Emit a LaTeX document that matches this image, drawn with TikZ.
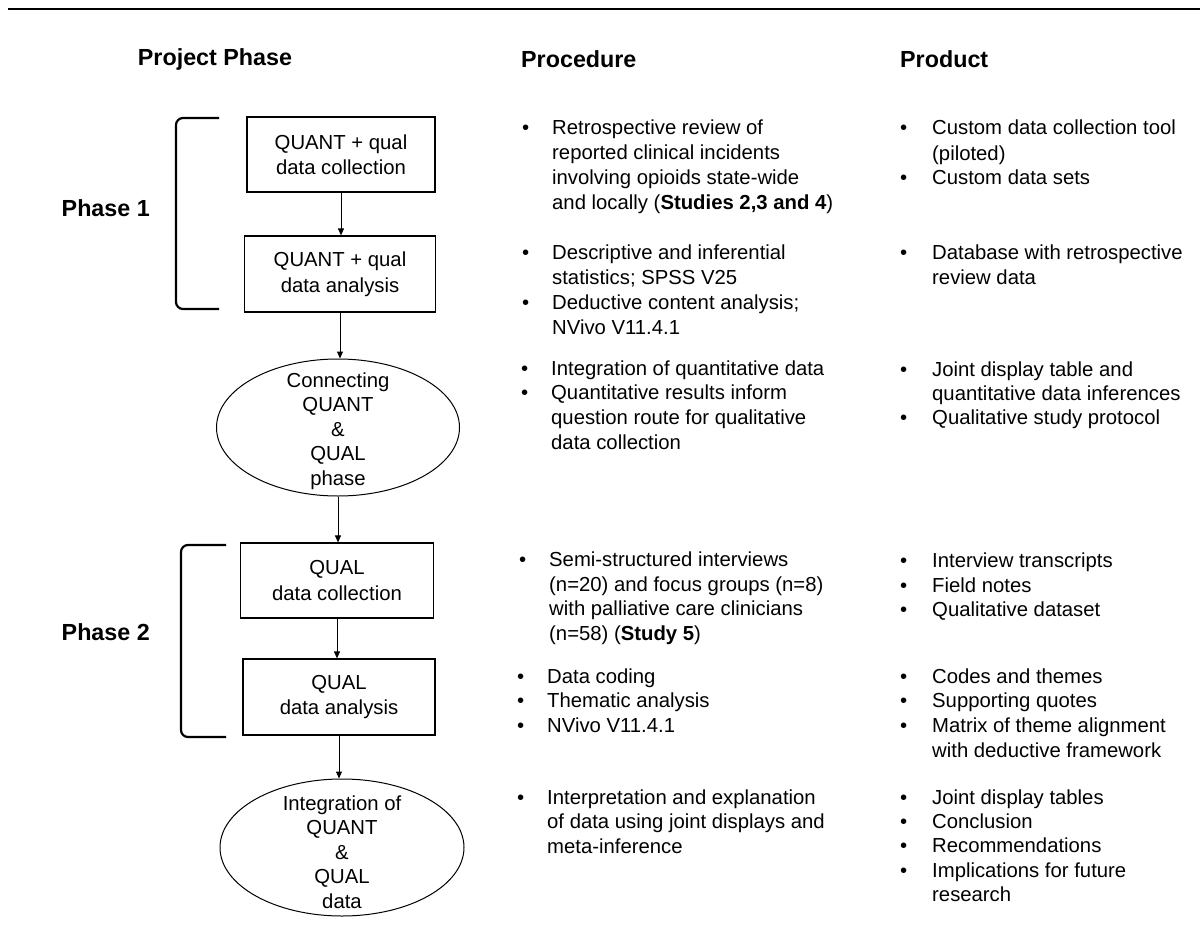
\documentclass[tikz,border=0pt]{standalone}
\usepackage{fontspec}
\setmainfont{Liberation Sans}
\usetikzlibrary{shapes.geometric,arrows.meta}
\newcounter{tn}
\newcommand\tline[3]{\stepcounter{tn}\node[txt,name=t\arabic{tn}] at (#1,#2+7) {#3};}
\newcommand\bpt[3]{\stepcounter{tn}\node[txt,name=t\arabic{tn}] at (#1,#2+7) {•};}
\tikzset{
 txt/.style={anchor=base west, inner sep=0pt, font=\fontsize{20.3}{24.7}\selectfont},
 hdr/.style={inner sep=0pt, font=\bfseries\fontsize{23.3}{28}\selectfont},
 boxn/.style={draw, line width=1.2pt, minimum width=190pt, minimum height=75pt, inner sep=0pt, align=center, font=\fontsize{20.3}{25.5}\selectfont},
 ell/.style={draw, ellipse, line width=1pt, inner sep=0pt, minimum width=243pt, minimum height=137pt},
 elltxt/.style={inner sep=0pt, align=center, font=\fontsize{20.3}{24.6}\selectfont},
 arr/.style={-{Triangle[length=7pt,width=6pt]}, line width=1pt},
 brk/.style={line width=2.2pt, rounded corners=7pt},
}
\begin{document}
\begin{tikzpicture}[x=1pt,y=-1pt]
\useasboundingbox (0,0) rectangle (1200,934);
\fill[white] (0,0) rectangle (1200,934);
% top rule
\coordinate (r1) at (8,9);
\coordinate (r2) at (1200,9);
\draw[line width=2.5pt] (r1) -- (r2);
% headers
\node[hdr] (h1) at (215,59) {Project Phase};
\node[hdr,anchor=west] (h2) at (521,59) {Procedure};
\node[hdr,anchor=west] (h3) at (900,59) {Product};
% phase labels
\node[hdr,anchor=east] (ph1) at (150,208) {Phase 1};
\node[hdr,anchor=east] (ph2) at (150,632) {Phase 2};
% brackets
\draw[brk] (219,118) -- (176,118) -- (176,309) -- (219,309);
\draw[brk] (226,545) -- (181,545) -- (181,737) -- (226,737);
% flow nodes
\node[boxn,minimum width=188pt] (b1) at (341,154.5) {QUANT + qual\\data collection};
\node[boxn,minimum width=191pt,minimum height=76pt] (b2) at (340,274) {QUANT + qual\\data analysis};
\node[ell] (e1) at (338,427.5) {};
\node[elltxt] (e1t) at (338,431) {Connecting\\QUANT\\\&\\QUAL\\phase};
\node[boxn,minimum width=193pt] (b3) at (337,580.5) {QUAL\\data collection};
\node[boxn,minimum width=192pt,minimum height=76pt] (b4) at (339,697) {QUAL\\data analysis};
\node[ell,minimum width=244pt] (e2) at (342,847.5) {};
\node[elltxt] (e2t) at (342,852) {Integration of\\QUANT\\\&\\QUAL\\data};
% connectors
\draw[arr] (b1.south) -- (b1.south |- b2.north);
\draw[arr] (b2.south) -- (b2.south |- e1.north);
\draw[arr] (e1.south) -- (e1.south |- b3.north);
\draw[arr] (b3.south) -- (b3.south |- b4.north);
\draw[arr] (b4.south) -- (b4.south |- e2.north);
% procedure column
\bpt{522}{128}{}
\tline{552}{128}{Retrospective review of}
\tline{552}{152.5}{reported clinical incidents}
\tline{552}{177.5}{involving opioids state-wide}
\tline{552}{202.5}{and locally (\textbf{Studies 2,3 and 4})}
\bpt{522}{252}{}
\tline{552}{252}{Descriptive and inferential}
\tline{552}{277}{statistics; SPSS V25}
\bpt{522}{302}{}
\tline{552}{302}{Deductive content analysis;}
\tline{552}{327}{NVivo V11.4.1}
\bpt{521}{368}{}
\tline{551}{368}{Integration of quantitative data}
\bpt{521}{392}{}
\tline{551}{392}{Quantitative results inform}
\tline{551}{417}{question route for qualitative}
\tline{551}{442}{data collection}
\bpt{519}{559}{}
\tline{549}{559}{Semi-structured interviews}
\tline{549}{584}{(n=20) and focus groups (n=8)}
\tline{549}{608.5}{with palliative care clinicians}
\tline{549}{633}{(n=58) (\textbf{Study 5})}
\bpt{517}{676}{}
\tline{547}{676}{Data coding}
\bpt{517}{700}{}
\tline{547}{700}{Thematic analysis}
\bpt{517}{725}{}
\tline{547}{725}{NVivo V11.4.1}
\bpt{517}{797}{}
\tline{547}{797}{Interpretation and explanation}
\tline{547}{821}{of data using joint displays and}
\tline{547}{846}{meta-inference}
% product column
\bpt{900}{128}{}
\tline{932}{128}{Custom data collection tool}
\tline{932}{153}{(piloted)}
\bpt{900}{177}{}
\tline{932}{177}{Custom data sets}
\bpt{900}{252}{}
\tline{932}{252}{Database with retrospective}
\tline{932}{277}{review data}
\bpt{900}{369}{}
\tline{932}{369}{Joint display table and}
\tline{932}{393}{quantitative data inferences}
\bpt{900}{417}{}
\tline{932}{417}{Qualitative study protocol}
\bpt{900}{560}{}
\tline{932}{560}{Interview transcripts}
\bpt{900}{585}{}
\tline{932}{585}{Field notes}
\bpt{900}{609}{}
\tline{932}{609}{Qualitative dataset}
\bpt{900}{676}{}
\tline{932}{676}{Codes and themes}
\bpt{900}{700}{}
\tline{932}{700}{Supporting quotes}
\bpt{900}{725}{}
\tline{932}{725}{Matrix of theme alignment}
\tline{932}{750}{with deductive framework}
\bpt{900}{797}{}
\tline{932}{797}{Joint display tables}
\bpt{900}{821}{}
\tline{932}{821}{Conclusion}
\bpt{900}{845}{}
\tline{932}{845}{Recommendations}
\bpt{900}{870}{}
\tline{932}{870}{Implications for future}
\tline{932}{894}{research}
\end{tikzpicture}
\end{document}
